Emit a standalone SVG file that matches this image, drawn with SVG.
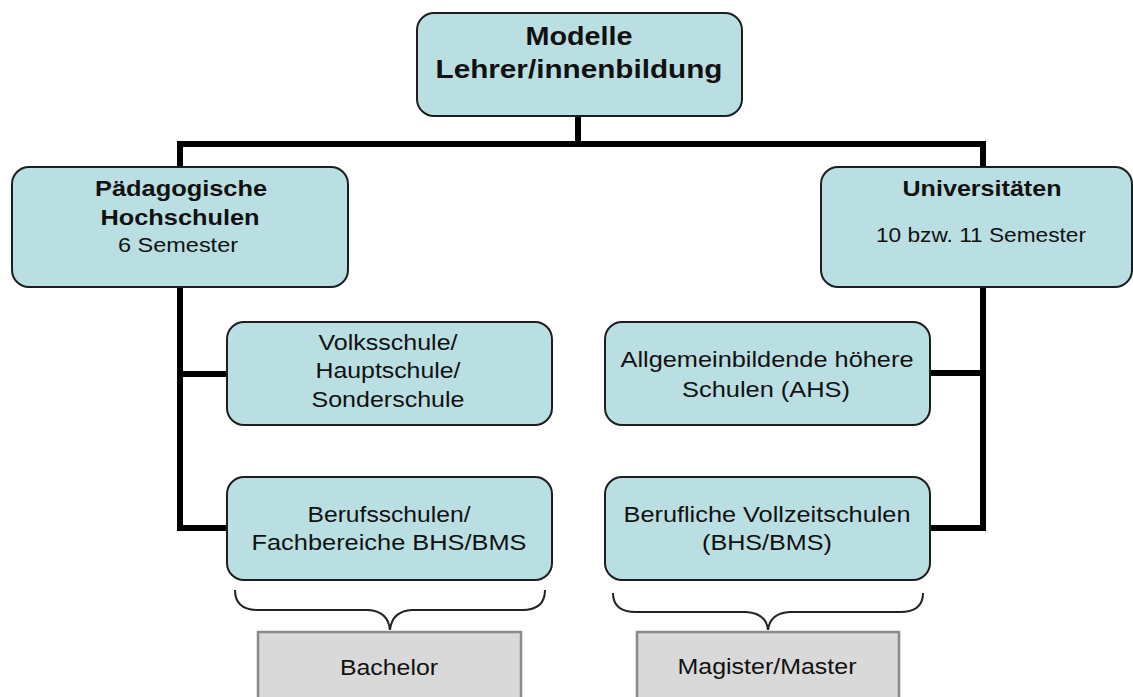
<svg xmlns="http://www.w3.org/2000/svg" width="1133" height="697" viewBox="0 0 1133 697">
<style>
.box{fill:#b9dfe3;stroke:#1e1e1e;stroke-width:2}
.gbox{fill:#d9d9d9;stroke:#8a8a8a;stroke-width:2.5}
.conn{fill:none;stroke:#000;stroke-width:6;stroke-linejoin:miter;stroke-linecap:butt}
.brace{fill:none;stroke:#222;stroke-width:2}
text{font-family:"Liberation Sans",Arial,sans-serif;fill:#111;text-anchor:middle}
.b26{font-size:26px;font-weight:bold}
.b22{font-size:22px;font-weight:bold}
.r20{font-size:20px}
.r22{font-size:22px}
</style>
<rect width="1133" height="697" fill="#fff"/>
<g id="connectors">
<path class="conn" d="M578,116 V144"/>
<path class="conn" d="M180,167 V144 H983 V167"/>
<path class="conn" d="M180,287 V528 H227"/>
<path class="conn" d="M180,374 H227"/>
<path class="conn" d="M983,287 V528 H930"/>
<path class="conn" d="M983,373 H930"/>
</g>
<g id="braces">
<path class="brace" d="M235,590 Q235,610 258,610 L368,610 Q388,611 390,630 Q392,611 412,610 L522,610 Q545,610 545,590"/>
<path class="brace" d="M613,593 Q613,612 636,612 L746,612 Q766,613 768,630 Q770,613 790,612 L900,612 Q923,612 923,593"/>
</g>
<g id="n-top">
<rect class="box" x="417" y="13" width="325" height="103" rx="17"/>
<text class="b26" x="579" y="45" textLength="107" lengthAdjust="spacingAndGlyphs">Modelle</text>
<text class="b26" x="579" y="78" textLength="287" lengthAdjust="spacingAndGlyphs">Lehrer/innenbildung</text>
</g>
<g id="n-ph">
<rect class="box" x="12" y="167" width="336" height="120" rx="17"/>
<text class="b22" x="181" y="196" textLength="172" lengthAdjust="spacingAndGlyphs">Pädagogische</text>
<text class="b22" x="180" y="225" textLength="159" lengthAdjust="spacingAndGlyphs">Hochschulen</text>
<text class="r20" x="178" y="252" textLength="120" lengthAdjust="spacingAndGlyphs">6 Semester</text>
</g>
<g id="n-uni">
<rect class="box" x="821" y="167" width="311" height="120" rx="17"/>
<text class="b22" x="982" y="196" textLength="159" lengthAdjust="spacingAndGlyphs">Universitäten</text>
<text class="r20" x="981" y="242" textLength="210" lengthAdjust="spacingAndGlyphs">10 bzw. 11 Semester</text>
</g>
<g id="n-vs">
<rect class="box" x="227" y="322" width="325" height="103" rx="17"/>
<text class="r22" x="388" y="350" textLength="139" lengthAdjust="spacingAndGlyphs">Volksschule/</text>
<text class="r22" x="388" y="378" textLength="145" lengthAdjust="spacingAndGlyphs">Hauptschule/</text>
<text class="r22" x="388" y="407" textLength="153" lengthAdjust="spacingAndGlyphs">Sonderschule</text>
</g>
<g id="n-bs">
<rect class="box" x="227" y="477" width="325" height="103" rx="17"/>
<text class="r22" x="389" y="522" textLength="163" lengthAdjust="spacingAndGlyphs">Berufsschulen/</text>
<text class="r22" x="389" y="550" textLength="275" lengthAdjust="spacingAndGlyphs">Fachbereiche BHS/BMS</text>
</g>
<g id="n-ahs">
<rect class="box" x="605" y="322" width="325" height="103" rx="17"/>
<text class="r22" x="767" y="367" textLength="293" lengthAdjust="spacingAndGlyphs">Allgemeinbildende höhere</text>
<text class="r22" x="766" y="397" textLength="168" lengthAdjust="spacingAndGlyphs">Schulen (AHS)</text>
</g>
<g id="n-bvs">
<rect class="box" x="605" y="477" width="325" height="103" rx="17"/>
<text class="r22" x="767" y="522" textLength="287" lengthAdjust="spacingAndGlyphs">Berufliche Vollzeitschulen</text>
<text class="r22" x="767" y="550" textLength="130" lengthAdjust="spacingAndGlyphs">(BHS/BMS)</text>
</g>
<g id="n-bachelor">
<rect class="gbox" x="258" y="632" width="263" height="80"/>
<text class="r22" x="389" y="675" textLength="98" lengthAdjust="spacingAndGlyphs">Bachelor</text>
</g>
<g id="n-master">
<rect class="gbox" x="637" y="632" width="262" height="80"/>
<text class="r22" x="767" y="674" textLength="179" lengthAdjust="spacingAndGlyphs">Magister/Master</text>
</g>
</svg>
